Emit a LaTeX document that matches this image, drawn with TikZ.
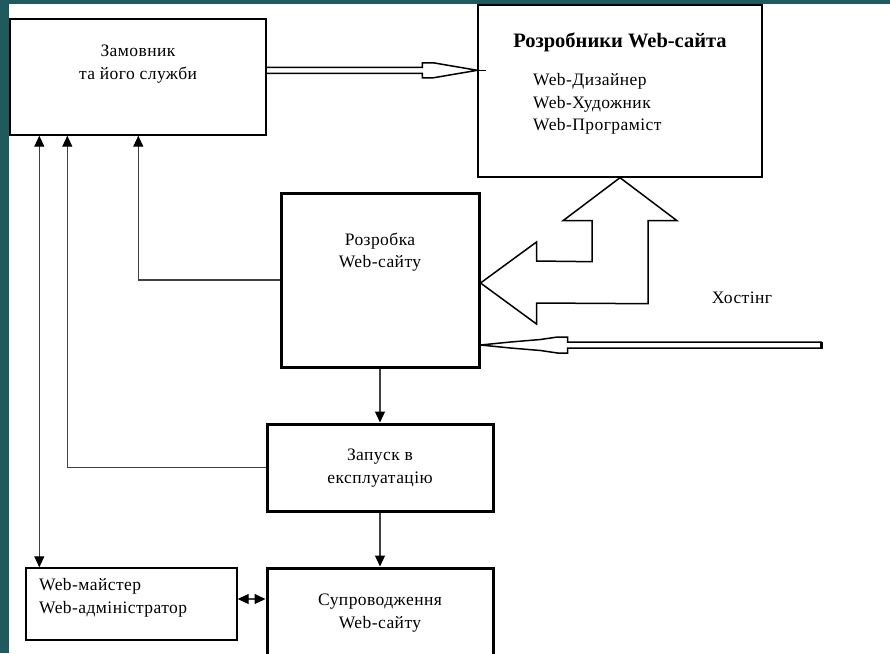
\documentclass[tikz,border=0pt]{standalone}
\usepackage{fontspec}
\setmainfont{Liberation Serif}
\usetikzlibrary{arrows.meta,calc}
\definecolor{tealbg}{HTML}{1F5A5E}
\definecolor{connc}{HTML}{404040}
\begin{document}
\begin{tikzpicture}[x=1pt,y=-1pt,
  thinbox/.style={draw=black,line width=1.4pt,inner sep=0pt},
  thickbox/.style={draw=black,line width=3pt,inner sep=0pt},
  txt/.style={font=\fontsize{17.5}{22.5}\selectfont\addfontfeatures{LetterSpace=2.5},align=center,inner sep=0pt},
  ltxt/.style={font=\fontsize{17.5}{22.5}\selectfont\addfontfeatures{LetterSpace=2.5},align=left,inner sep=0pt,anchor=west},
  ttl/.style={font=\fontsize{20.5}{24}\selectfont\bfseries,inner sep=0pt},
  conn/.style={draw=connc,line width=1.1pt},
  tip/.tip={Triangle[length=11pt,width=10pt,color=black]},
  hollow/.style={draw=black,line width=1.5pt,line join=miter},
]
\useasboundingbox (0,0) rectangle (890,653);
\clip (0,0) rectangle (890,653);
\fill[tealbg] (0,0) rectangle (890,653);
\fill[white] (9,4) rectangle (890,653);

% boxes
\node[thinbox,minimum width=256pt,minimum height=116pt] (zam) at (138,77) {};
\node[thinbox,minimum width=284pt,minimum height=172pt] (dev) at (620,91) {};
\node[thickbox,minimum width=198pt,minimum height=174pt] (razr) at (380,280) {};
\node[thickbox,minimum width=226pt,minimum height=87pt] (zap) at (380,467.5) {};
\node[thickbox,minimum width=226pt,minimum height=100pt] (supr) at (380,618) {};
\node[thinbox,minimum width=211pt,minimum height=72pt] (wm) at (131.5,604) {};

% texts
\node[txt] (zamt) at (138,64) {Замовник\\та його служби};
\node[ttl] (devt) at (620,42) {Розробники Web-сайта};
\node[ltxt] (devl) at (533,104) {Web-Дизайнер\\Web-Художник\\Web-Програміст};
\node[txt] (razrt) at (380,252) {Розробка\\Web-сайту};
\node[txt] (zapt) at (380,468) {Запуск в\\експлуатацію};
\node[txt] (suprt) at (380,613) {Супроводження\\Web-сайту};
\node[ltxt] (wmt) at (39,598) {Web-майстер\\Web-адміністратор};
\node[txt] (host) at (742,298) {Хостінг};

% connectors
\draw[conn,tip-] ($(zam.south west)+(129,0)$) |- (razr.west);
\draw[conn,tip-] ($(zam.south west)+(58,0)$) |- (zap.west);
\draw[conn,tip-tip] ($(zam.south west)+(30,0)$) -- ($(wm.north west)+(14,0)$);
\draw[conn,-tip] (razr.south) -- (zap.north);
\draw[conn,-tip] (zap.south) -- (supr.north);
\draw[conn,tip-tip] ($(wm.east)+(0,-5)$) -- ($(wm.east -| supr.west)+(0,-5)$);

% hollow arrow customer -> developers
\coordinate (ha) at ($(zam.north east)+(0,52)$);
\coordinate (hb) at ($(dev.north west)+(0,66)$);
\draw[hollow] ($(ha)+(0,-3)$) -- ($(hb)+(-55,-3)$) -- ($(hb)+(-55,-7.5)$) -- ($(hb)+(-44,-7.5)$)
  -- (hb) -- ($(hb)+(-44,7.5)$) -- ($(hb)+(-55,7.5)$) -- ($(hb)+(-55,3)$) -- ($(ha)+(0,3)$);
\draw[black,line width=1pt] (hb) -- ++(9,0);

% block arrow (developers <-> development)
\coordinate (ut) at (dev.south);
\coordinate (lt) at ($(razr.east)+(0,3)$);
\draw[hollow] (lt) -- ($(lt)+(56,-41)$) -- ($(lt)+(56,-22)$) -- ($(ut)+(-28,84)$)
  -- ($(ut)+(-28,43)$) -- ($(ut)+(-57,43)$) -- (ut) -- ($(ut)+(57,43)$) -- ($(ut)+(28,43)$)
  -- ($(ut)+(28,126)$) -- ($(lt)+(56,20)$) -- ($(lt)+(56,41)$) -- cycle;

% hosting arrow
\coordinate (hs) at (821,345);
\coordinate (ht) at ($(razr.east)+(0,65)$);
\draw[hollow] (ht) -- ($(ht)+(30,-3)$) -- ($(ht)+(60,-5.5)$) -- ($(ht)+(77,-8)$) -- ($(ht)+(87,-8)$)
  -- ($(ht)+(87,-3)$) -- ($(hs)+(0,-3)$) -- ($(hs)+(0,3)$) -- ($(ht)+(87,3)$) -- ($(ht)+(87,8)$)
  -- ($(ht)+(77,8)$) -- ($(ht)+(60,5.5)$) -- ($(ht)+(30,3)$) -- cycle;
\draw[black,line width=3pt] ($(hs)+(0,-3.5)$) -- ($(hs)+(0,3.5)$);
\end{tikzpicture}
\end{document}
